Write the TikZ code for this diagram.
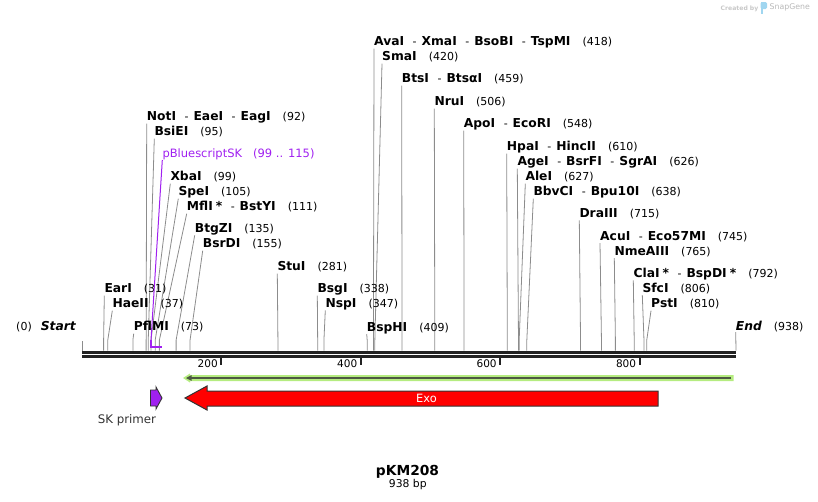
\documentclass[tikz,border=0pt]{standalone}
\usepackage{fontspec}
\setmainfont{DejaVu Sans}
\definecolor{bargray}{RGB}{34,34,34}
\definecolor{leadgray}{RGB}{140,140,140}
\definecolor{featpurple}{RGB}{160,32,240}
\definecolor{lightgreen}{RGB}{181,236,128}
\definecolor{darkgreen}{RGB}{77,88,66}
\definecolor{edgegray}{RGB}{51,51,51}
\definecolor{wmgray}{RGB}{200,200,200}
\definecolor{wmblue}{RGB}{160,214,240}
\newcommand{\cutsep}{\hspace{8.5pt}{\mdseries\fontsize{11}{13}\selectfont -}\hspace{5pt}}
\newcommand{\cutpos}[1]{\hspace{12pt}{\mdseries\upshape\fontsize{11}{13}\selectfont (#1)}}
\newcommand{\meth}{\hspace{3pt}*}
\begin{document}
\begin{tikzpicture}[x=1pt, y=-1pt,
  cut/.style={anchor=base west, inner sep=0pt, font=\fontsize{12.3}{14}\selectfont\bfseries},
  leader/.style={leadgray, line width=0.8pt},
  bar/.style={bargray, line width=2.8pt},
  tick/.style={bargray, line width=2pt},
  ticklbl/.style={anchor=base east, inner sep=0pt, font=\fontsize{10.5}{12}\selectfont},
  featline/.style={featpurple, line width=1.6pt}]
  \useasboundingbox (0,0) rectangle (818,501);
  % backbone
  \draw[bar] (82,352.3) -- (736,352.3);
  \draw[bar] (82,356.8) -- (736,356.8);
  \foreach \t in {200,400,600,800}{
    \coordinate (k\t) at ({82+\t*0.69723},357.5);
    \draw[tick] (k\t) -- ++(0,7.5);
    \node[ticklbl] (t\t) at ([xshift=-3.5pt,yshift=-10pt]k\t) {\t};
  }
  % ends
  \node[cut, anchor=base east] (startlbl) at (76,330.7) {{\mdseries\fontsize{11}{13}\selectfont (0)}\hspace{9pt}\itshape Start};
  \node[cut] (endlbl) at (735.7,330.7) {{\itshape End}\cutpos{938}};
  \coordinate (s0top) at (82,341);
  \coordinate (s0) at (82,350.5);
  \coordinate (e0) at (736,350.5);
  \draw[leader] (s0top) -- (s0);
  \draw[leader] ([yshift=-1.5pt]endlbl.base west) -- (e0);
  % cut sites
  \foreach \nm/\lx/\ly/\bp/\txt in {
    avaI/374/45.7/418/{AvaI\cutsep XmaI\cutsep BsoBI\cutsep TspMI},
    smaI/382/60.7/420/{SmaI},
    btsI/401.7/82.7/459/{BtsI\cutsep BtsαI},
    nruI/434.3/105.7/506/{NruI},
    apoI/463.7/127.7/548/{ApoI\cutsep EcoRI},
    hpaI/506.7/150.7/610/{HpaI\cutsep HincII},
    ageI/517.3/165.7/626/{AgeI\cutsep BsrFI\cutsep SgrAI},
    aleI/525.3/180.7/627/{AleI},
    bbvCI/533.3/195.7/638/{BbvCI\cutsep Bpu10I},
    draIII/579.3/217.3/715/{DraIII},
    acuI/600/240/745/{AcuI\cutsep Eco57MI},
    nmeAIII/614.3/255/765/{NmeAIII},
    claI/633.3/277.3/792/{ClaI\meth\cutsep BspDI\meth},
    sfcI/642.3/292/806/{SfcI},
    pstI/651/307.7/810/{PstI},
    notI/146.7/120.7/92/{NotI\cutsep EaeI\cutsep EagI},
    bsiEI/154.3/135.7/95/{BsiEI},
    xbaI/170.3/180.7/99/{XbaI},
    speI/178.3/195.7/105/{SpeI},
    mflI/186.7/210.7/111/{MflI\meth\cutsep BstYI},
    btgZI/194.7/232.3/135/{BtgZI},
    bsrDI/202.7/247.7/155/{BsrDI},
    stuI/277.3/270.7/281/{StuI},
    earI/104.3/292.7/31/{EarI},
    haeII/112.3/307.7/37/{HaeII},
    pflMI/133.7/330.7/73/{PflMI},
    bsgI/317.3/292.7/338/{BsgI},
    nspI/325.3/307.3/347/{NspI},
    bspHI/366.7/331/409/{BspHI}}{
    \node[cut] (\nm) at (\lx,\ly) {\txt\cutpos{\bp}};
    \coordinate (\nm-s) at ({82+\bp*0.69723},350.5);
    \draw[leader] ([yshift=-3pt]\nm.base west) -- ([yshift=10.5pt]\nm-s) -- (\nm-s);
  }
  % feature
  \node[cut, font=\fontsize{11.5}{14}\selectfont, text=featpurple] (pbs) at (162.3,157) {pBluescriptSK\hspace{11pt}(99 .. 115)};
  \coordinate (pbsA) at (151,347);
  \coordinate (pbsB) at (161.5,347);
  \draw[featline, line width=1pt] ([yshift=-3pt]pbs.base west) -- ([yshift=7pt]pbsA);
  \draw[featline] ([yshift=7pt]pbsA) -- (pbsA) -- (pbsB);
  % thin arrow
  \fill[lightgreen] (183,378) -- (190,373.5) -- (190,375) -- (733.5,375) -- (733.5,381) -- (190,381) -- (190,382.5) -- cycle;
  \draw[darkgreen, line width=2pt] (731,378) -- (190,378);
  \fill[darkgreen] (186,378) -- (191.5,375.2) -- (191.5,380.8) -- cycle;
  % Exo
  \draw[fill=red, draw=edgegray, line width=1pt] (185,398) -- (207,386) -- (207,391) -- (658,391) -- (658,406) -- (207,406) -- (207,410) -- cycle;
  \node[text=white, font=\fontsize{11.4}{13}\selectfont] (exo) at (426.5,398) {Exo};
  % primer
  \draw[fill=featpurple, draw=edgegray, line width=0.9pt] (150.5,390) -- (156,390) -- (156,387) -- (162,398) -- (156,409) -- (156,406) -- (150.5,406) -- cycle;
  \node[anchor=base, inner sep=0pt, text=edgegray, font=\fontsize{11.8}{14}\selectfont] (skp) at (127,423.3) {SK primer};
  % title
  \node[anchor=base, inner sep=0pt, font=\fontsize{13.8}{16}\selectfont\bfseries] (title) at (407.5,475) {pKM208};
  \node[anchor=base, inner sep=0pt, font=\fontsize{10.8}{13}\selectfont] (size) at (407.8,487.3) {938 bp};
  % watermark
  \node[anchor=base west, inner sep=0pt, text=wmgray, font=\fontsize{6.1}{8}\selectfont\bfseries] (credit) at (720.5,10) {Created by};
  \fill[wmblue, rounded corners=1.5pt] (760.5,2) rectangle (767,9);
  \fill[wmblue] (760.5,2) rectangle (763.3,13.5);
  \node[anchor=base west, inner sep=0pt, text=wmgray!130, font=\fontsize{7.8}{9}\selectfont] (snapgene) at (769.5,9.5) {SnapGene};
\end{tikzpicture}
\end{document}
